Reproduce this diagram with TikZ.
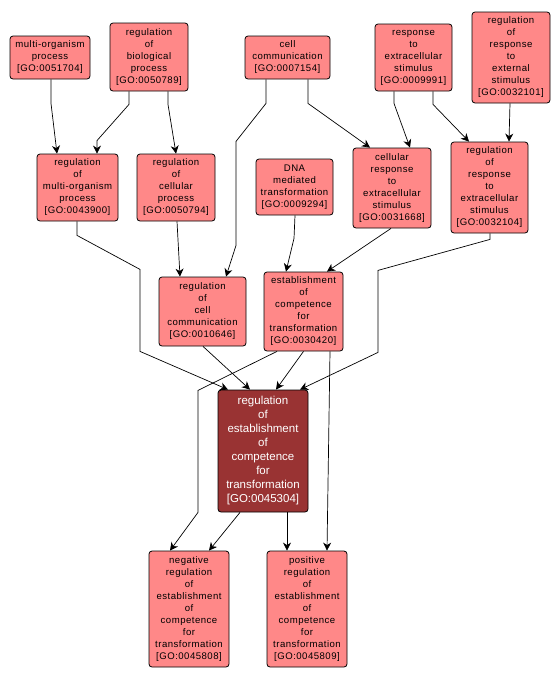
\documentclass[tikz,border=0pt]{standalone}
\usepackage{fontspec}
\setmainfont{Liberation Sans}
\newfontfamily\gospaced{Liberation Sans}[LetterSpace=5]
\usetikzlibrary{arrows.meta}
\definecolor{goterm}{HTML}{FF8888}
\definecolor{gofocus}{HTML}{993333}

\begin{document}
\begin{tikzpicture}[x=1pt,y=-1pt,
  term/.style={draw=black, line width=0.8pt, fill=goterm, rounded corners=3pt, align=center, inner sep=0pt, font=\gospaced\fontsize{9.6}{12}\selectfont},
  focus/.style={term, fill=gofocus, text=white, font=\rmfamily\fontsize{11.5}{14}\selectfont},
  edge/.style={line width=0.7pt, -{Stealth[length=8pt,width=8pt,inset=2.5pt]}}]
\useasboundingbox (0,0) rectangle (560,678);
\node[term, minimum width=80pt, minimum height=43pt] (mop) at (50,57.5) {multi-organism\\process\\{[GO:0051704]}};
\node[term, minimum width=78pt, minimum height=68pt] (rbp) at (149,57) {regulation\\of\\biological\\process\\{[GO:0050789]}};
\node[term, minimum width=85pt, minimum height=43pt] (cc) at (287.5,57.5) {cell\\communication\\{[GO:0007154]}};
\node[term, minimum width=77pt, minimum height=67pt] (rtes) at (413.5,57.5) {response\\to\\extracellular\\stimulus\\{[GO:0009991]}};
\node[term, minimum width=78pt, minimum height=91pt] (rrtes) at (511,57.5) {regulation\\of\\response\\to\\external\\stimulus\\{[GO:0032101]}};
\node[term, minimum width=81pt, minimum height=67pt] (rmop) at (77.5,187.5) {regulation\\of\\multi-organism\\process\\{[GO:0043900]}};
\node[term, minimum width=78pt, minimum height=67pt] (rcp) at (176,187.5) {regulation\\of\\cellular\\process\\{[GO:0050794]}};
\node[term, minimum width=77pt, minimum height=56pt] (dmt) at (294.5,187) {DNA\\mediated\\transformation\\{[GO:0009294]}};
\node[term, minimum width=78pt, minimum height=80pt] (cres) at (392,188) {cellular\\response\\to\\extracellular\\stimulus\\{[GO:0031668]}};
\node[term, minimum width=77pt, minimum height=91pt] (rres) at (489.5,187.5) {regulation\\of\\response\\to\\extracellular\\stimulus\\{[GO:0032104]}};
\node[term, minimum width=87pt, minimum height=69pt] (rccomm) at (202.5,311.5) {regulation\\of\\cell\\communication\\{[GO:0010646]}};
\node[term, minimum width=79pt, minimum height=79pt] (ect) at (303.5,311.5) {establishment\\of\\competence\\for\\transformation\\{[GO:0030420]}};
\node[focus, minimum width=90pt, minimum height=122pt] (main) at (263,451) {regulation\\of\\establishment\\of\\competence\\for\\transformation\\{[GO:0045304]}};
\node[term, minimum width=80pt, minimum height=116pt] (neg) at (189,609) {negative\\regulation\\of\\establishment\\of\\competence\\for\\transformation\\{[GO:0045808]}};
\node[term, minimum width=80pt, minimum height=116pt] (pos) at (307,609) {positive\\regulation\\of\\establishment\\of\\competence\\for\\transformation\\{[GO:0045809]}};
\draw[edge] ([xshift=1pt]mop.south) -- ++(0,24) -- ([xshift=-20.5pt]rmop.north);
\draw[edge] ([xshift=-20pt]rbp.south) -- ++(0,13) -- ([xshift=19.5pt,yshift=13pt]rmop.north) -- ([xshift=19.5pt]rmop.north);
\draw[edge] ([xshift=19pt]rbp.south) -- ++(0,13) -- (rcp.north);
\draw[edge] ([xshift=-21.5pt]cc.south) -- ++(0,24) -- ++(-30,38) -- ++(0,104) -- ([xshift=23.5pt]rccomm.north);
\draw[edge] ([xshift=20.5pt]cc.south) -- ++(0,24) -- ([xshift=-22pt]cres.north);
\draw[edge] ([xshift=-19.5pt]rtes.south) -- ++(0,12) -- ([xshift=18pt]cres.north);
\draw[edge] ([xshift=19.5pt]rtes.south) -- ++(0,13) -- ([xshift=-20.5pt]rres.north);
\draw[edge] ([xshift=-1pt]rrtes.south) -- ([xshift=19.5pt]rres.north);
\draw[edge] ([xshift=1pt]rcp.south) -- ([xshift=-22.5pt]rccomm.north);
\draw[edge] ([xshift=0.5pt]dmt.south) -- ++(-1,23) -- ([xshift=-17.5pt]ect.north);
\draw[edge] ([xshift=-1pt]cres.south) -- ([xshift=23.5pt]ect.north);
\draw[edge] ([xshift=-0.5pt]rmop.south) -- ++(0,14) -- ++(63,34) -- ++(0,82) -- ([xshift=-35pt]main.north);
\draw[edge] ([xshift=0.5pt]rccomm.south) -- ([xshift=-13pt]main.north);
\draw[edge] (ect.south) -- ([xshift=13pt]main.north);
\draw[edge] ([xshift=0.5pt]rres.south) -- ++(0,6) -- ++(-112,31) -- ++(0,82) -- ([xshift=37pt]main.north);
\draw[edge] ([xshift=-26.5pt]ect.south) -- ++(-79,39) -- ++(0,122) -- ([xshift=-19pt]neg.north);
\draw[edge] ([xshift=-23pt]main.south) -- ([xshift=20pt]neg.north);
\draw[edge] ([xshift=24pt]main.south) -- ([xshift=-20pt]pos.north);
\draw[edge] ([xshift=26.5pt]ect.south) -- ([xshift=20pt]pos.north);
\end{tikzpicture}
\end{document}
